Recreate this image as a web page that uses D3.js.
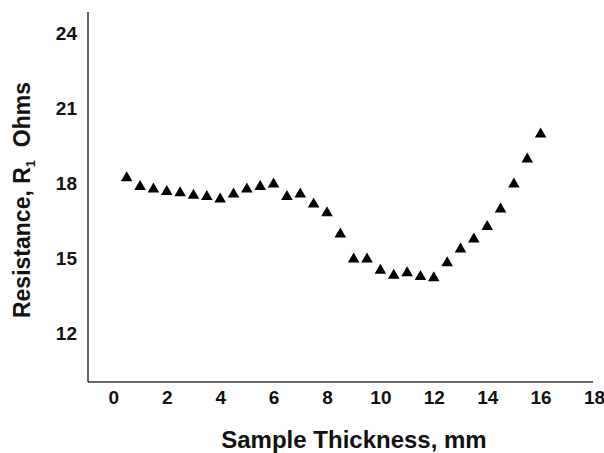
<!DOCTYPE html>
<html><head><meta charset="utf-8">
<script src="https://cdn.jsdelivr.net/npm/d3@7"></script>
<style>html,body{margin:0;padding:0;background:#fff;}svg{display:block;}</style>
</head><body>
<script>
const thickness = [0.5,1,1.5,2,2.5,3,3.5,4,4.5,5,5.5,6,6.5,7,7.5,8,8.5,9,9.5,10,10.5,11,11.5,12,12.5,13,13.5,14,14.5,15,15.5,16];
const resistance = [18.2,17.85,17.75,17.65,17.6,17.5,17.45,17.35,17.55,17.75,17.85,17.95,17.45,17.55,17.15,16.8,15.95,14.95,14.95,14.5,14.3,14.4,14.25,14.2,14.8,15.35,15.75,16.25,16.95,17.95,18.95,19.95];
const xTicks = [0,2,4,6,8,10,12,14,16,18];
const yTicks = [12,15,18,21,24];

const W = 604, H = 453;
const svg = d3.select("body").append("svg").attr("width", W).attr("height", H);
const x = d3.scaleLinear().domain([-0.95, 18]).range([88, 594]);
const y = d3.scaleLinear().domain([10.04, 24.84]).range([382, 12]);
const font = "'Liberation Sans', Arial, sans-serif";

const xAxis = svg.append("g").attr("transform", `translate(0,${y(10.04)})`)
  .call(d3.axisBottom(x).tickValues(xTicks).tickSize(0).tickPadding(9).tickFormat(d3.format("d")));
xAxis.select(".domain").attr("stroke", "#333").attr("stroke-width", 1.5).attr("d", `M${x(-0.95)},0H${x(18)-1}`);
xAxis.selectAll("text").attr("font-family", font).attr("font-weight", "bold").attr("font-size", 19).attr("fill", "#111");

const yAxis = svg.append("g").attr("transform", `translate(${x(-0.95)},0)`)
  .call(d3.axisLeft(y).tickValues(yTicks).tickSize(0).tickPadding(11).tickFormat(d3.format("d")));
yAxis.select(".domain").attr("stroke", "#333").attr("stroke-width", 1.5).attr("d", `M0,${y(24.84)}V${y(10.04)}`);
yAxis.selectAll("text").attr("font-family", font).attr("font-weight", "bold").attr("font-size", 19).attr("fill", "#111");

const tri = d3.symbol().type(d3.symbolTriangle).size(58);
svg.append("g").selectAll("path").data(thickness).join("path")
  .attr("d", tri)
  .attr("transform", (d,i) => `translate(${x(d)},${y(resistance[i])})`)
  .attr("fill", "#000");

svg.append("text").attr("x", 354).attr("y", 448).attr("text-anchor", "middle")
  .attr("font-family", font).attr("font-weight", "bold").attr("font-size", 24).attr("fill", "#111")
  .text("Sample Thickness, mm");

const yt = svg.append("text").attr("transform", "translate(30,200) rotate(-90)").attr("text-anchor", "middle")
  .attr("font-family", font).attr("font-weight", "bold").attr("font-size", 23).attr("fill", "#111");
yt.append("tspan").text("Resistance, R");
yt.append("tspan").attr("font-size", 13).attr("dy", 5).text("1");
yt.append("tspan").attr("dy", -5).text("\u00a0 Ohms");
</script>
</body></html>
